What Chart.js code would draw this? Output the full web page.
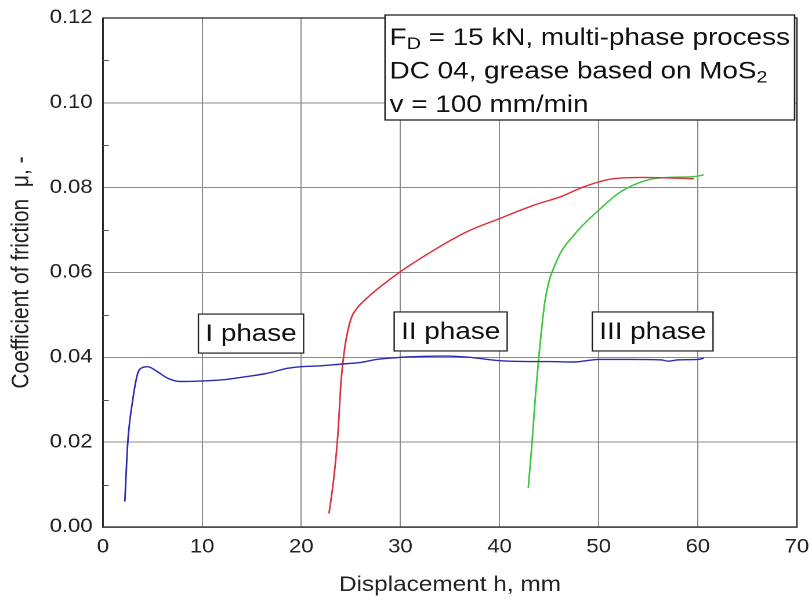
<!DOCTYPE html>
<html>
<head>
<meta charset="utf-8">
<script src="https://cdn.jsdelivr.net/npm/chart.js@4.4.1/dist/chart.umd.min.js"></script>
<style>
  html, body { margin: 0; padding: 0; background: #fff; overflow: hidden; }
  /* source figure is a little wide-set, so draw narrow and stretch */
  #wrap {
    width: 700px; height: 602px;
    transform: scaleX(1.16); transform-origin: 0 0;
  }
</style>
</head>
<body>
<div id="wrap"><canvas id="frictionChart"></canvas></div>
<script>
// ─── Data ───────────────────────────────────────────────────────────────
const phase1Displacement = [2.2, 2.5, 3.0, 3.5, 4.0, 4.5, 5.5, 6.5, 7.8, 9.8, 12, 14,
  16.5, 18.6, 20, 22, 24, 26, 27.6, 30, 32, 34.7, 37, 40, 43, 45, 47.5, 50, 53, 56.3,
  57, 58, 60, 60.6];
const phase1Friction = [0.006, 0.020, 0.030, 0.0362, 0.0376, 0.0378, 0.0366, 0.0351,
  0.0343, 0.0344, 0.0347, 0.0353, 0.0362, 0.0374, 0.0378, 0.038, 0.0384, 0.0388,
  0.0395, 0.040, 0.0402, 0.0403, 0.040, 0.0392, 0.039, 0.039, 0.0389, 0.0395, 0.0395,
  0.0394, 0.0391, 0.0394, 0.0395, 0.0398];

const phase2Displacement = [22.8, 23.3, 23.7, 24.0, 24.4, 25.0, 25.6, 26.5, 28.0, 30,
  33.4, 36.7, 40.1, 43.5, 46.2, 48.5, 51.2, 54.6, 57, 59.6];
const phase2Friction = [0.0032, 0.0119, 0.0221, 0.0339, 0.0425, 0.049, 0.0515, 0.0537,
  0.0567, 0.0602, 0.0653, 0.0696, 0.0728, 0.0759, 0.0779, 0.0802, 0.082, 0.0824,
  0.0823, 0.0821];

const phase3Displacement = [42.9, 43.3, 43.6, 44.0, 44.6, 45.8, 47.5, 50.2, 52.2, 54.9,
  56.9, 59.6, 60.6];
const phase3Friction = [0.0092, 0.0205, 0.0303, 0.041, 0.0535, 0.0629, 0.0688, 0.0751,
  0.079, 0.0818, 0.0824, 0.0826, 0.083];

const xTicks = [0, 10, 20, 30, 40, 50, 60, 70];
const yTicks = [0, 0.02, 0.04, 0.06, 0.08, 0.10, 0.12];
const yMinorTicks = [0.01, 0.03, 0.05, 0.07, 0.09, 0.11];

const phaseLabels = ["I phase", "II phase", "III phase"];
const phaseLabelX = [14.93, 35.07, 55.45];
const phaseLabelY = [0.0456, 0.0461, 0.0461];

// info box lines, segments flagged sub are drawn as subscripts
const infoLines = [
  [["F"], ["D", true], [" = 15 kN, multi-phase process"]],
  [["DC 04, grease based on MoS"], ["2", true]],
  [["v = 100 mm/min"]],
];

// ─── Helpers ────────────────────────────────────────────────────────────
const FONT = "'Liberation Sans', Arial, sans-serif";
const zip = (xs, ys) => xs.map((x, i) => ({ x, y: ys[i] }));

function lineSet(label, xs, ys, color) {
  return {
    label,
    data: zip(xs, ys),
    borderColor: color,
    borderWidth: 1.4,
    pointRadius: 0,
    fill: false,
    cubicInterpolationMode: "monotone",
  };
}

// keep the plot area where the figure has it, labels may overhang
function noLabelPadding(s) {
  s.paddingLeft = 0;
  s.paddingRight = 0;
  s.paddingTop = 0;
  s.paddingBottom = 0;
}

// ─── Overlay: frame, minor ticks, labels ────────────────────────────────
const overlayPlugin = {
  id: "overlay",
  afterDatasetsDraw(chart) {
    const { ctx, chartArea: a, scales: { x, y } } = chart;
    ctx.save();

    // plot frame
    ctx.strokeStyle = "#2a2a2a";
    ctx.lineWidth = 1.3;
    ctx.strokeRect(a.left, a.top, a.right - a.left, a.bottom - a.top);

    // minor ticks on left axis
    ctx.lineWidth = 1;
    ctx.strokeStyle = "#555";
    yMinorTicks.forEach((v) => {
      const py = Math.round(y.getPixelForValue(v)) + 0.5;
      ctx.beginPath();
      ctx.moveTo(a.left, py);
      ctx.lineTo(a.left + 5, py);
      ctx.stroke();
    });

    // phase labels
    ctx.font = "24px " + FONT;
    ctx.textAlign = "center";
    ctx.textBaseline = "middle";
    phaseLabels.forEach((label, i) => {
      const cx = x.getPixelForValue(phaseLabelX[i]);
      const cy = y.getPixelForValue(phaseLabelY[i]);
      const w = ctx.measureText(label).width + 12;
      const h = 39;
      ctx.fillStyle = "#fff";
      ctx.fillRect(cx - w / 2, cy - h / 2, w, h);
      ctx.strokeStyle = "#222";
      ctx.lineWidth = 1.2;
      ctx.strokeRect(cx - w / 2, cy - h / 2, w, h);
      ctx.fillStyle = "#111";
      ctx.fillText(label, cx, cy + 1);
    });

    // info box in the upper right
    const mainFont = "24px " + FONT;
    const subFont = "17px " + FONT;
    const widthOf = (segs) => segs.reduce((s, [t, sub]) => {
      ctx.font = sub ? subFont : mainFont;
      return s + ctx.measureText(t).width;
    }, 0);
    const boxW = Math.max(...infoLines.map(widthOf)) + 8;
    const boxRight = a.right - 2;
    const boxLeft = boxRight - boxW;
    const boxTop = a.top - 3;
    const boxBottom = 120;
    ctx.fillStyle = "#fff";
    ctx.fillRect(boxLeft, boxTop, boxW, boxBottom - boxTop);
    ctx.strokeStyle = "#222";
    ctx.lineWidth = 1.3;
    ctx.strokeRect(boxLeft, boxTop, boxW, boxBottom - boxTop);

    ctx.textAlign = "left";
    ctx.textBaseline = "alphabetic";
    ctx.fillStyle = "#111";
    infoLines.forEach((segs, i) => {
      let tx = boxLeft + 4;
      const base = 45 + i * 33.5;
      segs.forEach(([t, sub]) => {
        ctx.font = sub ? subFont : mainFont;
        ctx.fillText(t, tx, sub ? base + 4 : base);
        tx += ctx.measureText(t).width;
      });
    });

    ctx.restore();
  },
};

// ─── Chart ──────────────────────────────────────────────────────────────
new Chart(document.getElementById("frictionChart"), {
  type: "line",
  data: {
    datasets: [
      lineSet("I phase", phase1Displacement, phase1Friction, "#2b2bb5"),
      lineSet("II phase", phase2Displacement, phase2Friction, "#dc2f3c"),
      lineSet("III phase", phase3Displacement, phase3Friction, "#3cc43c"),
    ],
  },
  options: {
    responsive: true,
    maintainAspectRatio: false,
    devicePixelRatio: 2,
    animation: false,
    layout: { padding: { top: 18, right: 13, left: 0, bottom: 0 } },
    plugins: { legend: { display: false }, tooltip: { enabled: false } },
    scales: {
      x: {
        type: "linear",
        min: 0,
        max: 70,
        afterFit: (s) => { s.height = 75; noLabelPadding(s); },
        afterBuildTicks: (s) => { s.ticks = xTicks.map((v) => ({ value: v })); },
        grid: { color: "#8a8a8a", lineWidth: 1, drawTicks: false },
        border: { color: "#2a2a2a", width: 1.3 },
        ticks: {
          padding: 9,
          color: "#222",
          font: { family: FONT, size: 19 },
        },
        title: {
          display: true,
          text: "Displacement h, mm",
          color: "#222",
          font: { family: FONT, size: 21 },
          padding: { top: 0, bottom: 4 },
        },
      },
      y: {
        min: 0,
        max: 0.12,
        afterFit: (s) => { s.width = 88.8; noLabelPadding(s); },
        afterBuildTicks: (s) => { s.ticks = yTicks.map((v) => ({ value: v })); },
        grid: { color: "#8a8a8a", lineWidth: 1, drawTicks: false },
        border: { color: "#2a2a2a", width: 1.3 },
        ticks: {
          padding: 9,
          color: "#222",
          font: { family: FONT, size: 19 },
          callback: (v) => Number(v).toFixed(2),
        },
        title: {
          display: true,
          text: "Coefficient of friction  \u03bc, -",
          color: "#222",
          font: { family: FONT, size: 21 },
          padding: { top: 6, bottom: 0 },
        },
      },
    },
  },
  plugins: [overlayPlugin],
});
</script>
</body>
</html>
